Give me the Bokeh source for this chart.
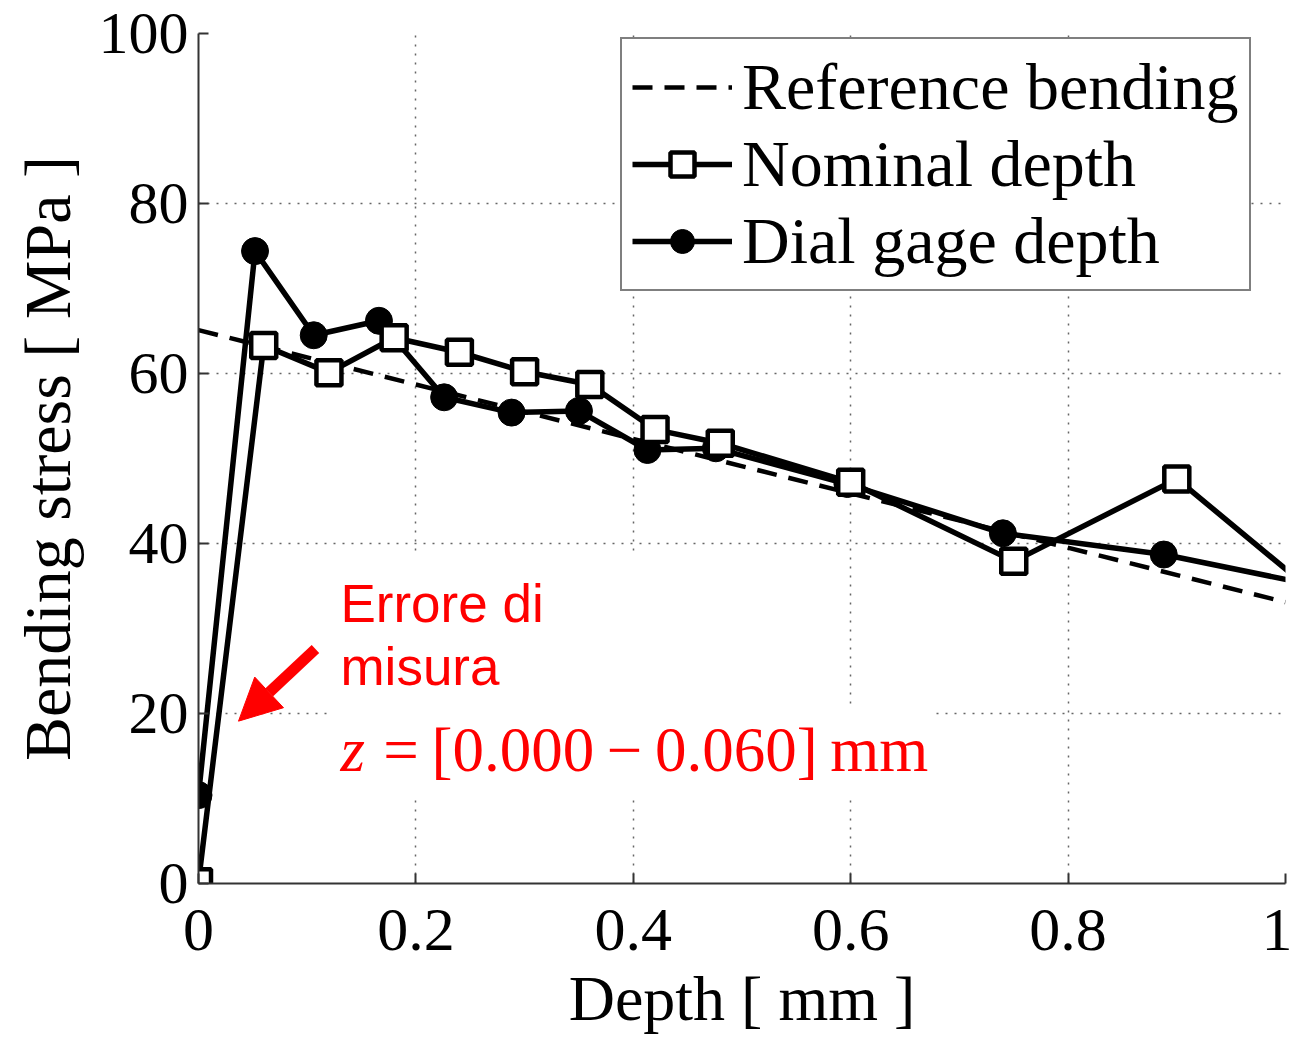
from bokeh.plotting import figure
from bokeh.models import (Range1d, FixedTicker, Label, Arrow, NormalHead,
                          BoxAnnotation, Legend, LegendItem)
from bokeh.embed import file_html
from bokeh.resources import INLINE

# ---- data ----
ref_depth = [0.0, 1.0]
ref_stress = [65.1, 33.1]

nominal_depth = [0.0, 0.06, 0.12, 0.18, 0.24, 0.30, 0.36, 0.42, 0.48, 0.60, 0.75, 0.90, 1.05]
nominal_stress = [0.2, 63.3, 60.1, 64.2, 62.5, 60.2, 58.7, 53.4, 51.8, 47.2, 37.9, 47.6, 31.7]

dial_depth = [0.0, 0.052, 0.106, 0.166, 0.226, 0.288, 0.350, 0.413, 0.476, 0.597, 0.740, 0.888, 1.03]
dial_stress = [10.4, 74.4, 64.5, 66.2, 57.2, 55.4, 55.6, 51.0, 51.2, 47.0, 41.2, 38.7, 35.0]

x_ticks = [0, 0.2, 0.4, 0.6, 0.8, 1]
x_tick_labels = ["0", "0.2", "0.4", "0.6", "0.8", "1"]
y_ticks = [0, 20, 40, 60, 80, 100]
y_tick_labels = ["0", "20", "40", "60", "80", "100"]

SERIF = "Liberation Serif"

p = figure(width=1292, height=1041, output_backend="svg", toolbar_location=None,
           x_range=Range1d(0, 1), y_range=Range1d(0, 100),
           min_border_left=198, min_border_right=7, min_border_top=33,
           min_border_bottom=158)
p.outline_line_color = None
p.background_fill_color = "white"
p.border_fill_color = "white"

# axes
for ax in (p.xaxis, p.yaxis):
    ax.axis_line_color = "#333333"
    ax.axis_line_width = 2
    ax.major_tick_in = 10
    ax.major_tick_out = 0
    ax.major_tick_line_color = "#333333"
    ax.major_tick_line_width = 2
    ax.minor_tick_line_color = None
    ax.major_label_text_font = SERIF
    ax.major_label_text_color = "black"
    ax.axis_label_text_font = SERIF
    ax.axis_label_text_font_style = "normal"
    ax.axis_label_text_color = "black"

p.xaxis.major_label_text_font_size = "62px"
p.yaxis.major_label_text_font_size = "60px"
p.xaxis.axis_label_text_font_size = "64px"
p.yaxis.axis_label_text_font_size = "66px"

p.xaxis.ticker = FixedTicker(ticks=x_ticks)
p.yaxis.ticker = FixedTicker(ticks=y_ticks)
p.xaxis.major_label_overrides = {float(t): s for t, s in zip(x_ticks, x_tick_labels)}
p.yaxis.major_label_overrides = {float(t): s for t, s in zip(y_ticks, y_tick_labels)}
p.xaxis.axis_label = "Depth [ mm ]"
p.yaxis.axis_label = "Bending stress [ MPa ]"
p.xaxis.major_label_standoff = 26
p.xaxis.axis_label_standoff = 10
p.yaxis.major_label_standoff = 10
p.yaxis.axis_label_standoff = 12

# grid
p.grid.grid_line_color = "#666666"
p.grid.grid_line_width = 1.5
p.grid.grid_line_dash = "2 7"

# white areas behind the annotation text (they hide the grid there)
p.add_layout(BoxAnnotation(left=0.121, right=0.462, bottom=20.9, top=38.5,
                           fill_color="white", fill_alpha=1, line_color=None,
                           level="underlay"))
p.add_layout(BoxAnnotation(left=0.121, right=0.676, bottom=10.3, top=20.9,
                           fill_color="white", fill_alpha=1, line_color=None,
                           level="underlay"))

# data
r_ref = p.line(ref_depth, ref_stress, line_color="black", line_width=4.5,
               line_dash="20 12")
r_dial_l = p.line(dial_depth, dial_stress, line_color="black", line_width=5.5)
r_dial_m = p.scatter(dial_depth, dial_stress, marker="circle", size=27,
                     fill_color="black", line_color="black")
r_nom_l = p.line(nominal_depth, nominal_stress, line_color="black", line_width=5.5)
r_nom_m = p.scatter(nominal_depth, nominal_stress, marker="square", size=25,
                    fill_color="white", line_color="black", line_width=4.5)

legend = Legend(items=[
    LegendItem(label="Reference bending", renderers=[r_ref]),
    LegendItem(label="Nominal depth", renderers=[r_nom_l, r_nom_m]),
    LegendItem(label="Dial gage depth", renderers=[r_dial_l, r_dial_m]),
], location=(422, 592))
legend.label_text_font = SERIF
legend.label_text_font_size = "66px"
legend.label_text_color = "black"
legend.glyph_width = 100
legend.glyph_height = 60
legend.label_height = 72
legend.spacing = 1
legend.padding = 10
legend.label_standoff = 10
legend.border_line_color = "black"
legend.border_line_width = 2
legend.background_fill_color = "white"
legend.background_fill_alpha = 1
p.add_layout(legend)

# annotations
p.add_layout(Arrow(end=NormalHead(size=42, fill_color="red", line_color="red"),
                   x_start=0.1076, y_start=27.6, x_end=0.0368, y_end=19.1,
                   line_color="red", line_width=11))
p.add_layout(Label(x=0.1306, y=33.0, text="Errore di", text_color="red",
                   text_font="Liberation Sans", text_font_size="53px",
                   text_baseline="alphabetic"))
p.add_layout(Label(x=0.1306, y=25.5, text="misura", text_color="red",
                   text_font="Liberation Sans", text_font_size="53px",
                   text_baseline="alphabetic"))
p.add_layout(Label(x=0.1306, y=15.7, text="z", text_color="red",
                   text_font=SERIF, text_font_size="63px",
                   text_font_style="italic", text_baseline="alphabetic"))
p.add_layout(Label(x=0.170, y=15.7,
                   text="=\u2009[0.000\u2009\u2212\u20090.060]\u2009mm",
                   text_color="red", text_font=SERIF, text_font_size="63px",
                   text_baseline="alphabetic"))

open("out.html", "w").write(file_html(p, INLINE))
